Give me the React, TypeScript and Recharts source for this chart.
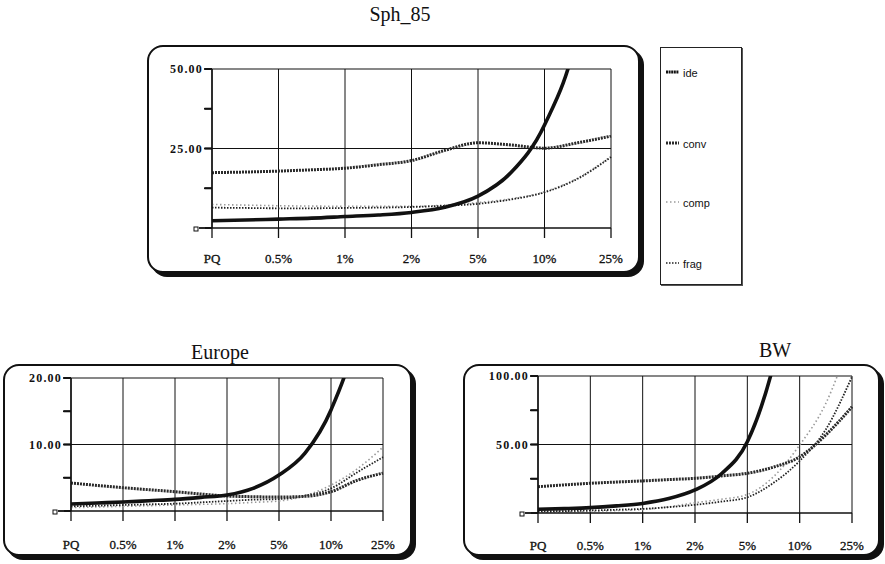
import React from "react";
import { LineChart, Line, XAxis, YAxis, CartesianGrid, ReferenceLine } from "recharts";

// x categories (shared by all three panels)
const categories = ["PQ", "0.5%", "1%", "2%", "5%", "10%", "25%"];
// sample positions along the category axis (half steps)
const steps = [0, 0.5, 1, 1.5, 2, 2.5, 3, 3.5, 4, 4.5, 5, 5.5, 6];

// Sph_85
const sphIde = [2.3, 2.5, 2.8, 3.1, 3.6, 4.1, 4.9, 6.5, 10.0, 17.5, 32.4, 62, 130];
const sphConv = [17.4, 17.6, 17.9, 18.3, 18.8, 19.9, 21.2, 24.4, 26.8, 26.1, 25.1, 26.8, 28.9];
const sphComp = [7.4, 7.2, 7.0, 6.9, 6.8, 6.8, 6.8, 7.2, 8.0, 9.2, 11.4, 15.7, 22.5];
const sphFrag = [6.4, 6.3, 6.2, 6.2, 6.3, 6.4, 6.6, 7.0, 7.6, 9.0, 11.2, 15.5, 22.3];

// Europe
const eurIde = [1.05, 1.2, 1.35, 1.55, 1.75, 2.05, 2.4, 3.4, 5.4, 8.7, 15.2, 27, 50];
const eurConv = [4.2, 3.85, 3.5, 3.2, 2.9, 2.55, 2.25, 2.15, 2.1, 2.2, 2.9, 4.6, 5.7];
const eurComp = [0.5, 0.6, 0.7, 0.8, 0.9, 1.0, 1.1, 1.3, 1.5, 2.3, 3.9, 6.3, 9.6];
const eurFrag = [0.7, 0.8, 0.9, 1.0, 1.1, 1.3, 1.5, 1.7, 1.8, 2.3, 3.4, 5.8, 8.1];

// BW
const bwIde = [2.7, 3.2, 3.9, 5.2, 7, 10.5, 16.8, 28.5, 52, 108, 200, 350, 600];
const bwConv = [19.2, 20.5, 21.7, 22.6, 23.4, 24.4, 25.3, 27, 29, 33.5, 41, 57, 77.5];
const bwComp = [0.5, 0.8, 1.2, 1.8, 2.5, 4.5, 7.5, 10, 13.5, 26.5, 49.6, 80, 130];
const bwFrag = [1.2, 1.4, 1.8, 2.4, 3, 4.3, 6, 8.3, 11.5, 22, 38, 61, 99.5];

const seriesStyle = {
  ide: { stroke: "#111", width: 3.6, dash: undefined as string | undefined },
  conv: { stroke: "#2a2a2a", width: 3, dash: "2 1" },
  comp: { stroke: "#9a9a9a", width: 1.6, dash: "1.5 2.5" },
  frag: { stroke: "#222", width: 1.8, dash: "1.5 1.5" },
};
const seriesOrder = ["comp", "frag", "conv", "ide"] as const;
const legendOrder = ["ide", "conv", "comp", "frag"] as const;

function buildRows(ide: number[], conv: number[], comp: number[], frag: number[]) {
  return steps.map((x, i) => ({ x, ide: ide[i], conv: conv[i], comp: comp[i], frag: frag[i] }));
}

const serif = "Liberation Serif";

function YTick(props: any) {
  const { x, y, payload, ymax } = props;
  const v = payload.value;
  const major = v === ymax || v === ymax / 2;
  return (
    <g>
      <line x1={v === 0 ? x - 6 : x - 1} y1={y} x2={x + 7} y2={y} stroke="#111" strokeWidth={1.8} />
      {v === 0 && <rect x={x - 11} y={y - 1} width={4} height={4} fill="#fff" stroke="#111" strokeWidth={1} />}
      {major && (
        <text x={x - 2} y={y} dy={4} textAnchor="end" fontFamily={serif} fontSize={12} fontWeight="bold" letterSpacing={1.2} fill="#111">
          {v.toFixed(2)}
        </text>
      )}
    </g>
  );
}

function XTick(props: any) {
  const { x, y, payload } = props;
  return (
    <text x={x} y={y} dy={10} textAnchor="middle" fontFamily={serif} fontSize={13} fill="#111" stroke="#111" strokeWidth={0.3}>
      {categories[payload.value]}
    </text>
  );
}

interface PanelProps {
  title: string;
  titleX: number;
  titleY: number;
  left: number;
  top: number;
  width: number;
  height: number;
  ymax: number;
  yAxisWidth: number;
  marginTop: number;
  marginRight: number;
  xAxisHeight: number;
  labelGap: number;
  rows: any[];
}

function Panel(p: PanelProps) {
  return (
    <>
      <div style={{ position: "absolute", left: p.titleX - 100, top: p.titleY, width: 200, textAlign: "center", fontFamily: serif, fontSize: 20, color: "#111" }}>
        {p.title}
      </div>
      <div
        style={{
          position: "absolute", left: p.left, top: p.top, width: p.width - 4, height: p.height - 4,
          border: "2px solid #111", borderRadius: 16, boxShadow: "4px 4px 0 #111", background: "#fff",
        }}
      />
      <div style={{ position: "absolute", left: p.left, top: p.top }}>
        <LineChart width={p.width} height={p.height} data={p.rows} margin={{ top: p.marginTop, right: p.marginRight, left: 0, bottom: 0 }}>
          <CartesianGrid horizontal={false} stroke="#111" strokeWidth={1} />
          <XAxis
            dataKey="x" type="number" domain={[0, 6]} ticks={[0, 1, 2, 3, 4, 5, 6]}
            height={p.xAxisHeight} stroke="#111" strokeWidth={1.5} tickSize={10} tickMargin={p.labelGap}
            tickLine={{ stroke: "#111", strokeWidth: 1.3 }} tick={<XTick />} interval={0}
          />
          <YAxis
            type="number" domain={[0, p.ymax]} allowDataOverflow
            ticks={[0, p.ymax / 4, p.ymax / 2, (3 * p.ymax) / 4, p.ymax]}
            width={p.yAxisWidth} stroke="#111" strokeWidth={1.5} tickSize={7} tickMargin={0}
            tickLine={{ stroke: "#111", strokeWidth: 1.8 }} tick={<YTick ymax={p.ymax} />} interval={0}
          />
          <ReferenceLine y={p.ymax / 2} stroke="#111" strokeWidth={1.2} />
          <ReferenceLine y={p.ymax} stroke="#111" strokeWidth={1.2} />
          {seriesOrder.map((k) => (
            <Line
              key={k} type="monotone" dataKey={k} dot={false} isAnimationActive={false}
              stroke={seriesStyle[k].stroke} strokeWidth={seriesStyle[k].width}
              strokeDasharray={seriesStyle[k].dash} strokeLinecap="butt"
            />
          ))}
        </LineChart>
      </div>
    </>
  );
}

function LegendBox() {
  const ys = [19, 90, 149, 210];
  return (
    <div style={{ position: "absolute", left: 660, top: 47, width: 80, height: 236, border: "1px solid #222", boxShadow: "1px 1px 0 #555", background: "#fff" }}>
      {legendOrder.map((k, i) => (
        <div key={k} style={{ position: "absolute", left: 5, top: ys[i], display: "flex", alignItems: "center", fontFamily: "Liberation Sans", fontSize: 11, color: "#111" }}>
          <svg width={13} height={8} style={{ marginRight: 4 }}>
            <line x1={0} y1={3} x2={13} y2={3} stroke={seriesStyle[k].stroke} strokeWidth={k === "ide" || k === "conv" ? 3 : 1.6} strokeDasharray={seriesStyle[k].dash ?? "2 0.6"} />
          </svg>
          <span>{k}</span>
        </div>
      ))}
    </div>
  );
}

export default function App() {
  return (
    <div style={{ position: "absolute", left: 0, top: 0, width: 885, height: 564, background: "#fff", overflow: "hidden" }}>
      <Panel
        title="Sph_85" titleX={400} titleY={3} left={147} top={45} width={493} height={228}
        ymax={50} yAxisWidth={65} marginTop={24} marginRight={29} xAxisHeight={45} labelGap={15}
        rows={buildRows(sphIde, sphConv, sphComp, sphFrag)}
      />
      <LegendBox />
      <Panel
        title="Europe" titleX={220} titleY={341} left={3} top={364} width={409} height={192}
        ymax={20} yAxisWidth={68} marginTop={14} marginRight={29} xAxisHeight={45} labelGap={18}
        rows={buildRows(eurIde, eurConv, eurComp, eurFrag)}
      />
      <Panel
        title="BW" titleX={775} titleY={339} left={463} top={364} width={417} height={192}
        ymax={100} yAxisWidth={75} marginTop={12} marginRight={28} xAxisHeight={43} labelGap={17}
        rows={buildRows(bwIde, bwConv, bwComp, bwFrag)}
      />
    </div>
  );
}
